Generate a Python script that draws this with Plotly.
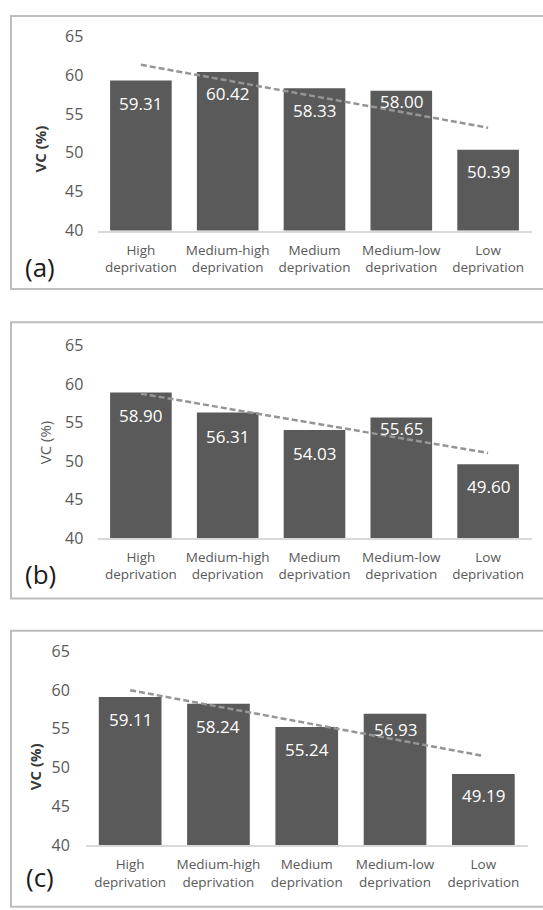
import numpy as np
import plotly.graph_objects as go

categories = ["High<br>deprivation", "Medium-high<br>deprivation", "Medium<br>deprivation",
              "Medium-low<br>deprivation", "Low<br>deprivation"]
vc_a = [59.31, 60.42, 58.33, 58.00, 50.39]
vc_b = [58.90, 56.31, 54.03, 55.65, 49.60]
vc_c = [59.11, 58.24, 55.24, 56.93, 49.19]
panel_labels = ["(a)", "(b)", "(c)"]
y_ticks = [40, 45, 50, 55, 60, 65]

W, H = 543, 910
def px(x): return x / W
def py(y): return 1 - y / H

# layout per panel (pixels)
panels = [
    dict(vals=vc_a, x0=97.5, x1=531.5, top=26, bot=225, box=(11, 5, 285), title_x=40, title_y=142,
         lab=(40, 262), bold=True, shifts=[-23, -22, -22, -11, -22], standoff=10),
    dict(vals=vc_b, x0=97.5, x1=531.5, top=343, bot=540, box=(11, 319, 602), title_x=45, title_y=442,
         lab=(40, 577), bold=False, shifts=[-23, -24, -23, -11, -22], standoff=10),
    dict(vals=vc_c, x0=86, x1=527.5, top=656, bot=855, box=(11, 635, 918), title_x=35, title_y=775,
         lab=(40, 887), bold=True, shifts=[-23, -23, -23, -16, -22], standoff=12),
]

FONT = "Open Sans"
BAR = "#5a5a5a"
TXT = "#595959"

fig = go.Figure()
shapes, annotations = [], []
xpos = np.arange(1, 6)
for i, p in enumerate(panels):
    n = "" if i == 0 else str(i + 1)
    xa, ya = "x" + n, "y" + n
    fig.add_trace(go.Bar(x=categories, y=p["vals"], marker=dict(color=BAR, line=dict(width=0)),
                         xaxis=xa, yaxis=ya, showlegend=False, hoverinfo="x+y"))
    # linear trendline fitted to the series
    slope, icpt = np.polyfit(xpos, p["vals"], 1)
    trend = slope * xpos + icpt
    fig.add_trace(go.Scatter(x=categories, y=trend, mode="lines", xaxis=xa, yaxis=ya,
                             line=dict(color="#959595", width=2.5, dash="6px,3px"),
                             showlegend=False, hoverinfo="skip"))
    fig.layout["xaxis" + n] = dict(domain=[px(p["x0"]), px(p["x1"])], anchor=ya,
                                   showline=True, linecolor="#d9d9d9", linewidth=1.5,
                                   ticks="outside", ticklen=6, tickcolor="rgba(0,0,0,0)",
                                   tickfont=dict(family=FONT, size=13.5, color=TXT),
                                   showgrid=False, zeroline=False, fixedrange=True)
    fig.layout["yaxis" + n] = dict(domain=[py(p["bot"]), py(p["top"])], anchor=xa,
                                   range=[40, 65], tickvals=y_ticks, showgrid=False,
                                   zeroline=False, showline=False,
                                   ticks="outside", ticklen=p["standoff"], tickcolor="rgba(0,0,0,0)",
                                   tickfont=dict(family=FONT, size=16, color=TXT), fixedrange=True)
    bx, by0, by1 = p["box"]
    shapes.append(dict(type="rect", xref="paper", yref="paper", x0=px(bx), x1=px(W + 10),
                       y0=py(by1), y1=py(by0), line=dict(color="#bdbdbd", width=2)))
    # value labels
    for c, v, s in zip(categories, p["vals"], p["shifts"]):
        annotations.append(dict(x=c, y=v, xref=xa, yref=ya, text=f"{v:.2f}", showarrow=False,
                                yshift=s, yanchor="middle",
                                font=dict(family=FONT, size=17, color="white")))
    # y-axis title
    t = "VC (%)"
    annotations.append(dict(xref="paper", yref="paper", x=px(p["title_x"]), y=py(p["title_y"]),
                            text=f"<b>{t}</b>" if p["bold"] else t, textangle=-90, showarrow=False,
                            xanchor="center", yanchor="middle",
                            font=dict(family=FONT, size=15, color="#3a3a3a" if p["bold"] else TXT)))
    # panel label
    annotations.append(dict(xref="paper", yref="paper", x=px(p["lab"][0]), y=py(p["lab"][1]),
                            text=panel_labels[i], showarrow=False, xanchor="center", yanchor="middle",
                            font=dict(family=FONT, size=26, color="#1a1a1a")))

fig.update_layout(width=W, height=H, margin=dict(l=0, r=0, t=0, b=0),
                  paper_bgcolor="white", plot_bgcolor="white", bargap=0.29,
                  shapes=shapes, annotations=annotations)
fig.write_html("out.html", config={"displayModeBar": False},
               post_script="document.body.style.margin='0';")
